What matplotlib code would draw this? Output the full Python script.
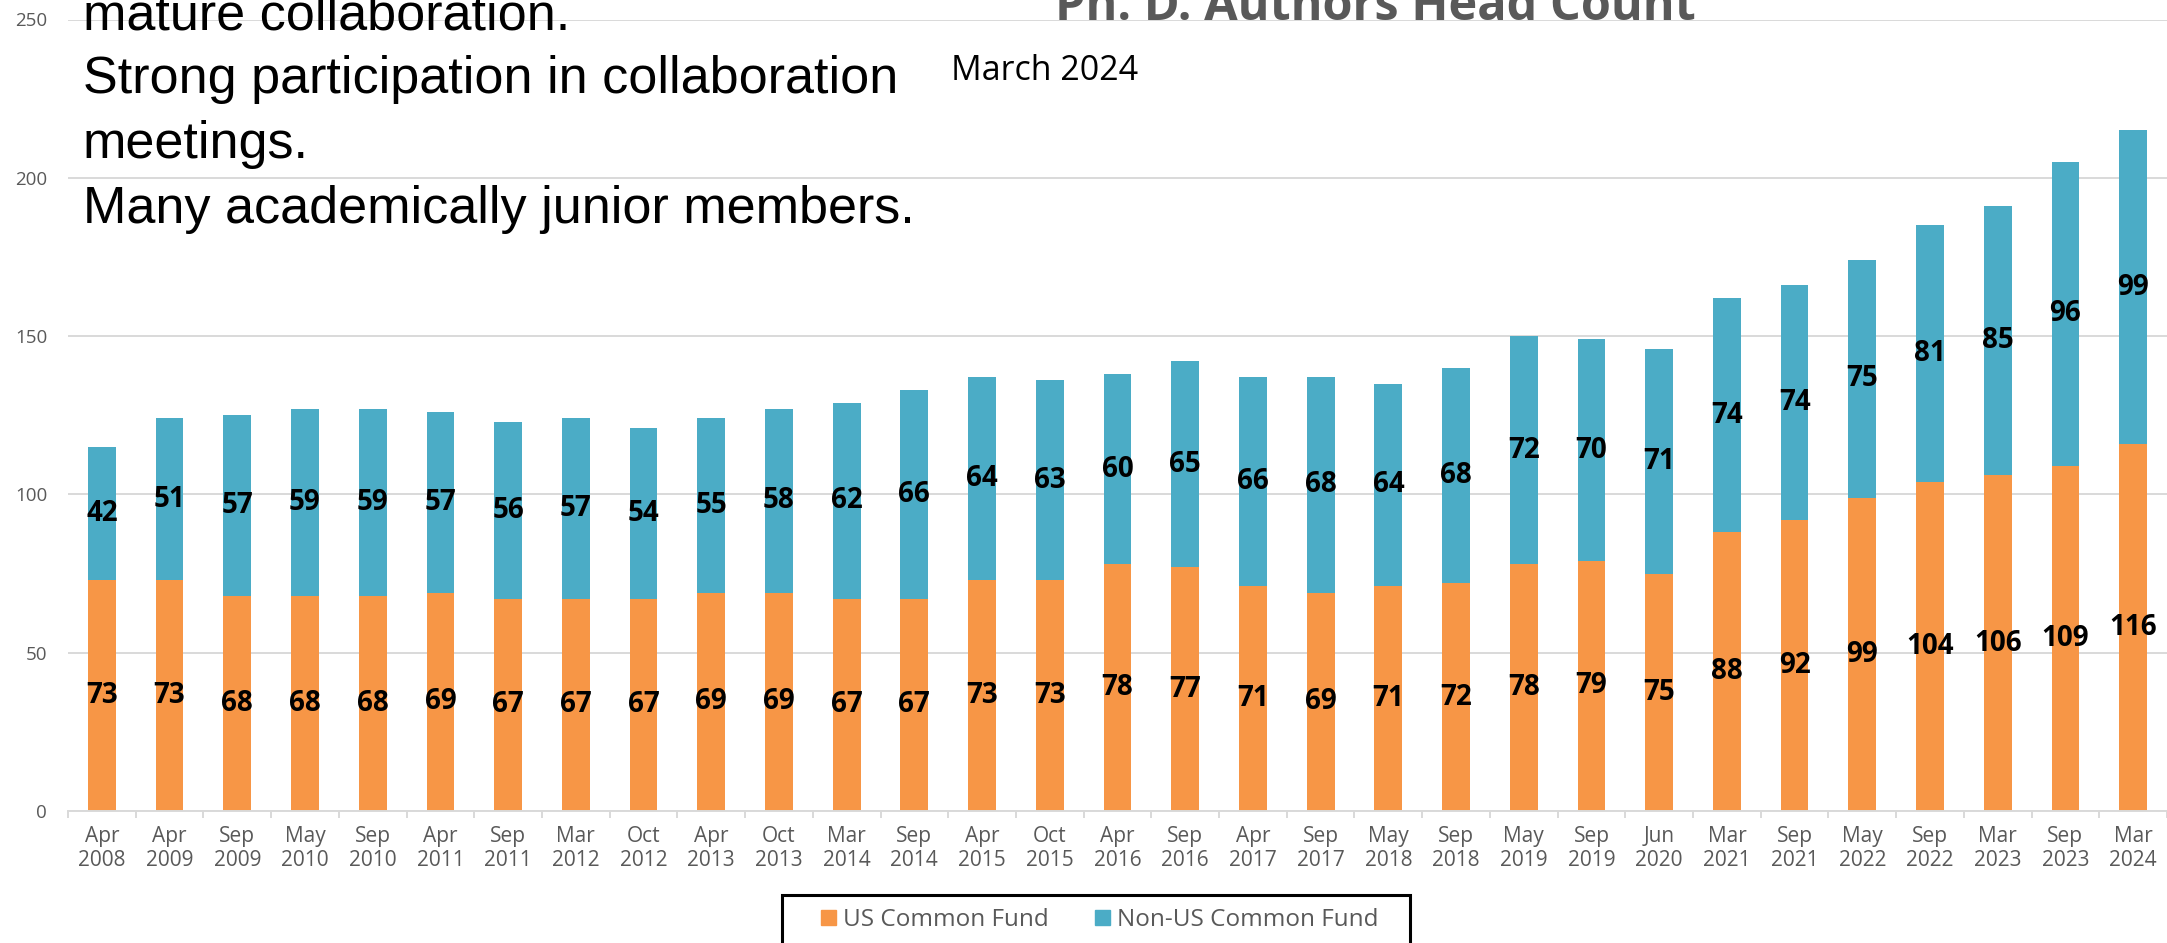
import matplotlib
matplotlib.use('Agg')
import matplotlib.pyplot as plt
from matplotlib.patches import Rectangle, Patch

W, H = 2167, 943

months = ['Apr', 'Apr', 'Sep', 'May', 'Sep', 'Apr', 'Sep', 'Mar', 'Oct', 'Apr', 'Oct',
          'Mar', 'Sep', 'Apr', 'Oct', 'Apr', 'Sep', 'Apr', 'Sep', 'May', 'Sep', 'May',
          'Sep', 'Jun', 'Mar', 'Sep', 'May', 'Sep', 'Mar', 'Sep', 'Mar']
years = [2008, 2009, 2009, 2010, 2010, 2011, 2011, 2012, 2012, 2013, 2013,
         2014, 2014, 2015, 2015, 2016, 2016, 2017, 2017, 2018, 2018, 2019,
         2019, 2020, 2021, 2021, 2022, 2022, 2023, 2023, 2024]
us_fund = [73, 73, 68, 68, 68, 69, 67, 67, 67, 69, 69, 67, 67, 73, 73, 78,
           77, 71, 69, 71, 72, 78, 79, 75, 88, 92, 99, 104, 106, 109, 116]
non_us_fund = [42, 51, 57, 59, 59, 57, 56, 57, 54, 55, 58, 62, 66, 64, 63, 60,
               65, 66, 68, 64, 68, 72, 70, 71, 74, 74, 75, 81, 85, 96, 99]

bullets = ['mature collaboration.',
           'Strong participation in collaboration',
           'meetings.',
           'Many academically junior members.']

ORANGE = '#F79646'
BLUE = '#4BACC6'
GRAY = '#595959'
GRID = '#d9d9d9'
CHART_FONT = 'Open Sans'


def fx(px):
    return px / W


def fy(py):
    return 1 - py / H


fig = plt.figure(figsize=(W / 100, H / 100), dpi=100)
ax = fig.add_axes([fx(68), fy(811), fx(W - 68), (811 - 19.5) / H])

x = list(range(len(us_fund)))
ax.bar(x, us_fund, width=0.41, color=ORANGE, zorder=2, label='US Common Fund')
ax.bar(x, non_us_fund, width=0.41, bottom=us_fund, color=BLUE, zorder=2,
       label='Non-US Common Fund')

for i, (a, b) in enumerate(zip(us_fund, non_us_fund)):
    ax.text(i, a / 2, str(a), ha='center', va='center', fontsize=20,
            fontweight='bold', family=CHART_FONT, color='black', zorder=3)
    ax.text(i, a + b / 2, str(b), ha='center', va='center', fontsize=20,
            fontweight='bold', family=CHART_FONT, color='black', zorder=3)

ax.set_xlim(-0.5, len(x) - 0.5)
ax.set_ylim(0, 250)
ax.set_yticks(range(0, 251, 50))
ax.yaxis.grid(True, color=GRID, lw=1.4, zorder=0)
ax.set_axisbelow(True)

ax.set_xticks(x)
ax.set_xticklabels(['{}\n{}'.format(m, y) for m, y in zip(months, years)])
ax.set_xticks([i - 0.5 for i in range(len(x) + 1)], minor=True)
ax.tick_params(axis='x', which='major', length=0, pad=11, labelsize=15,
               labelcolor=GRAY)
ax.tick_params(axis='x', which='minor', length=5, width=1.4, color=GRID)
ax.tick_params(axis='y', length=0, pad=15, labelsize=13.5, labelcolor=GRAY)
for lab in ax.get_xticklabels() + ax.get_yticklabels():
    lab.set_family(CHART_FONT)

for side in ['top', 'right', 'left']:
    ax.spines[side].set_visible(False)
ax.spines['bottom'].set_color(GRID)
ax.spines['bottom'].set_linewidth(1.4)

# title, cut off by the top of the screenshot
fig.text(fx(1375), fy(20), 'Ph. D. Authors Head Count', ha='center', va='baseline',
         fontsize=35, fontweight='bold', color=GRAY, family=CHART_FONT)
fig.text(fx(951), fy(80), 'March 2024', ha='left', va='baseline',
         fontsize=24.5, color='black', family=CHART_FONT)

for text, base in zip(bullets, [30, 93, 158, 223]):
    fig.text(fx(83), fy(base), text, ha='left', va='baseline', fontsize=37.5,
             color='black', family='Liberation Sans')

# legend box, bottom edge runs off the image
fig.add_artist(Rectangle((fx(782), fy(952)), fx(1410 - 782), (952 - 895) / H,
                         transform=fig.transFigure, fill=False, edgecolor='black',
                         lw=2.2))
handles = [Patch(color=ORANGE, label='US Common Fund'),
           Patch(color=BLUE, label='Non-US Common Fund')]
fig.legend(handles=handles, loc='center', bbox_to_anchor=(fx(1100), fy(920)),
           ncol=2, frameon=False, handlelength=0.6, handleheight=0.6,
           handletextpad=0.3, columnspacing=1.9,
           prop={'family': CHART_FONT, 'size': 17.5})
for t in fig.legends[0].get_texts():
    t.set_color(GRAY)

fig.savefig('out.png', dpi=100)
